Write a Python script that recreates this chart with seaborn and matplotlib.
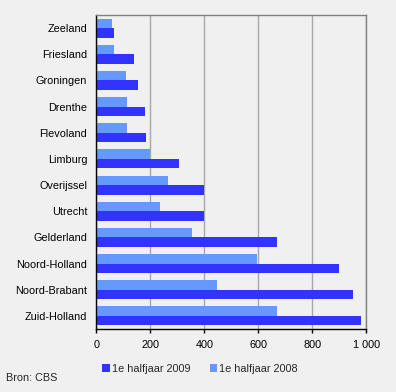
import numpy as np
import pandas as pd
import seaborn as sns
import matplotlib.pyplot as plt
from matplotlib.patches import Patch

provinces = ["Zeeland", "Friesland", "Groningen", "Drenthe", "Flevoland", "Limburg",
             "Overijssel", "Utrecht", "Gelderland", "Noord-Holland", "Noord-Brabant",
             "Zuid-Holland"]
h2009 = [66, 140, 154, 180, 184, 306, 398, 398, 668, 898, 950, 980]
h2008 = [58, 66, 110, 114, 114, 199, 265, 236, 355, 594, 446, 668]
xticks = [0, 200, 400, 600, 800, 1000]
xticklabels = ["0", "200", "400", "600", "800", "1 000"]

c2009 = "#3333FF"
c2008 = "#6699FF"
bg = "#F0F0F0"
fs = 7.8

df = pd.DataFrame({
    "Provincie": provinces * 2,
    "Waarde": h2008 + h2009,
    "Periode": ["1e halfjaar 2008"] * len(provinces) + ["1e halfjaar 2009"] * len(provinces),
})

sns.set_theme(style="white")
plt.rcParams["font.family"] = ["Liberation Sans", "DejaVu Sans"]

fig = plt.figure(figsize=(3.96, 3.92), dpi=100, facecolor=bg)
ax = fig.add_axes([0.2433, 0.1607, 0.925 - 0.2433, 0.9617 - 0.1607])
ax.set_facecolor(bg)

sns.barplot(data=df, y="Provincie", x="Waarde", hue="Periode",
            hue_order=["1e halfjaar 2008", "1e halfjaar 2009"],
            palette=[c2008, c2009], order=provinces, orient="h",
            width=0.73, saturation=1, errorbar=None, legend=False, ax=ax)
for p in ax.patches:
    p.set_edgecolor("none")

ax.set_xlim(0, 1000)
ax.set_ylim(len(provinces) - 0.5, -0.5)
ax.set_xticks(xticks)
ax.set_xticklabels(xticklabels, fontsize=fs, color="black")
ax.tick_params(axis="y", length=0, pad=6.5, labelsize=fs, labelcolor="black")
ax.tick_params(axis="x", length=3, width=1, color="black", direction="out", pad=5, bottom=True)
ax.xaxis.grid(True, color="#A8A8A8", linewidth=1)
ax.set_axisbelow(True)
ax.set_xlabel("")
ax.set_ylabel("")

for side in ["top", "right"]:
    ax.spines[side].set_color("#808080")
    ax.spines[side].set_linewidth(1)
for side in ["left", "bottom"]:
    ax.spines[side].set_color("black")
    ax.spines[side].set_linewidth(1)

handles = [Patch(facecolor=c2009, edgecolor="none", label="1e halfjaar 2009"),
           Patch(facecolor=c2008, edgecolor="none", label="1e halfjaar 2008")]
fig.legend(handles=handles, loc="center", bbox_to_anchor=(0.505, 1 - 369 / 392), ncol=2,
           frameon=False, fontsize=fs, handlelength=0.7, handleheight=0.7,
           handletextpad=0.2, columnspacing=1.8)

fig.text(6 / 396, 1 - 378 / 392, "Bron: CBS", fontsize=fs, va="center", ha="left")

fig.savefig("out.png", dpi=100, facecolor=bg)
